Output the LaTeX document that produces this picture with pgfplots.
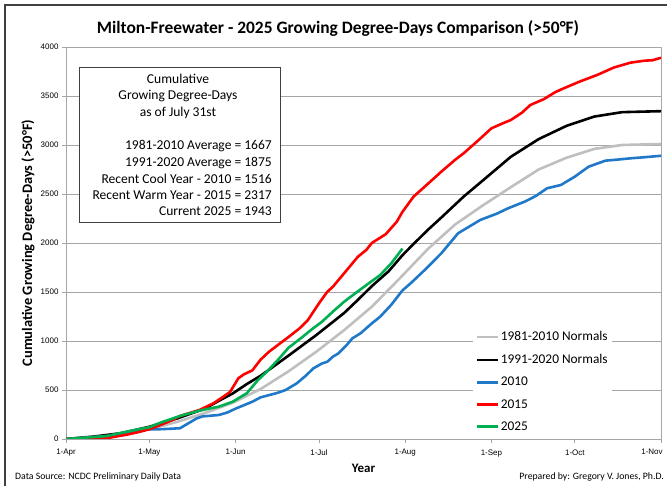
\documentclass[border=0pt]{standalone}
\usepackage{fontspec}
\setmainfont{Carlito}
\newfontfamily\arialf{Liberation Sans}
\usepackage{pgfplots}
\pgfplotsset{compat=1.18}
\definecolor{cgray}{HTML}{BFBFBF}
\definecolor{cblue}{HTML}{1F78C8}
\definecolor{cred}{HTML}{FF0000}
\definecolor{cgreen}{HTML}{00B050}
\definecolor{gridc}{HTML}{A6A6A6}
\definecolor{framec}{HTML}{404040}

\pgfplotstableread{
d v
0 0
10 15
20 45
30 100
40 175
50 265
60 370
70 510
80 690
90 890
100 1110
110 1350
121 1667
130 1935
140 2190
150 2385
160 2570
170 2750
180 2870
190 2960
200 3000
214 3010
}\gray

\pgfplotstableread{
d v
0 0
10 25
20 60
30 125
40 210
45 260
50 310
55 390
60 465
65 560
70 645
80 850
90 1060
100 1285
105 1420
110 1560
116 1710
121 1875
125 1990
130 2130
135 2260
143 2473
150 2640
160 2880
170 3060
180 3195
190 3290
200 3335
214 3345
}\black

\pgfplotstableread{
d v
0 0
10 20
15 31
20 55
26 90
30 98
34 100
38 105
41 110
44 160
47 210
49 230
55 245
58 270
61 310
67 380
70 425
72 440
76 470
79 500
83 568
86 640
89 721
92 770
94 789
96 840
98 874
101 960
103 1027
106 1080
110 1180
113 1248
117 1370
121 1516
124 1590
129 1724
135 1895
141 2099
149 2235
155 2300
159 2354
165 2422
169 2480
173 2558
178 2592
183 2677
188 2779
194 2840
198 2850
203 2864
208 2875
214 2890
}\blue

\pgfplotstableread{
d v
0 0
8 0
14 5
18 25
22 45
26 70
30 100
34 143
38 190
41 235
45 270
48 296
53 364
56 420
59 480
62 620
64 660
67 700
70 810
73 890
77 976
80 1040
84 1129
87 1214
91 1385
94 1503
96 1554
101 1724
105 1860
108 1929
110 2000
115 2090
119 2218
121 2317
125 2473
130 2600
135 2728
140 2850
143 2915
148 3040
153 3170
157 3220
160 3255
164 3330
167 3408
172 3470
176 3540
179 3578
185 3650
191 3714
197 3790
203 3840
208 3860
211 3865
214 3890
}\red

\pgfplotstableread{
d v
0 0
10 20
15 31
19 58
26 99
30 120
34 167
41 235
48 289
52 313
55 330
60 381
65 466
69 600
72 680
76 800
80 930
85 1040
88 1110
92 1195
96 1300
100 1400
104 1486
108 1570
113 1673
117 1793
121 1943
}\green

\begin{document}
\begin{tikzpicture}[x=1bp,y=1bp]
\path[use as bounding box] (0,0) rectangle (667,486);
\draw[framec, line width=2bp] (4.5,-5) -- (4.5,481) -- (672,481);
\begin{axis}[at={(66bp,47bp)}, anchor=south west, width=595bp, height=392bp, scale only axis,
 xmin=0, xmax=214, ymin=0, ymax=4000,
 xtick={0,30,61,91,122,153,183,214},
 xticklabels={1-Apr,1-May,1-Jun,1-Jul,1-Aug,1-Sep,1-Oct,{\hspace*{-18bp}1-Nov}},
 ytick={0,500,...,4000},
 ymajorgrids, grid style={gridc, line width=0.9bp},
 axis line style={gridc, line width=0.9bp},
 tick align=outside, xtick pos=left, ytick pos=left, major tick length=4bp,
 tick style={gridc, line width=0.8bp},
 ticklabel style={font=\arialf\fontsize{8}{9}\selectfont},
 xticklabel style={yshift=-3bp},
 /pgf/number format/assume math mode=true,
 scaled ticks=false, yticklabel style={/pgf/number format/1000 sep={}},
 xlabel={Year}, ylabel={Cumulative Growing Degree-Days (>50°F)},
 xlabel style={font=\bfseries\fontsize{13}{15}\selectfont, at={(axis description cs:0.5,-0.074)}, anchor=center},
 ylabel style={font=\bfseries\fontsize{14.5}{16}\selectfont, at={(axis description cs:-0.064,0.5)}, anchor=center},
 legend style={at={(rel axis cs:0.684,0.008)}, anchor=south west, draw=none, fill=white,
   font=\fontsize{13.4}{15}\selectfont, row sep=10bp, inner sep=3bp,
   nodes={inner sep=1bp}},
 legend cell align=left,
 legend image code/.code={\draw[#1, line width=2.6bp] (0bp,0bp) -- (21bp,0bp);},
 every axis plot/.append style={line width=2.6bp},
]
\addplot[cgray] table[x=d,y=v] {\gray};
\addlegendentry{1981-2010 Normals}
\addplot[black] table[x=d,y=v] {\black};
\addlegendentry{1991-2020 Normals}
\addplot[cblue] table[x=d,y=v] {\blue};
\addlegendentry{2010}
\addplot[cred] table[x=d,y=v] {\red};
\addlegendentry{2015}
\addplot[cgreen] table[x=d,y=v] {\green};
\addlegendentry{2025}
\end{axis}
\draw[framec, line width=0.8bp, fill=white] (79.5,264) rectangle (280,419);
\begin{scope}[every node/.style={inner sep=0pt, font=\fontsize{13.6}{15}\selectfont}]
\node[anchor=mid] at (178,405.3) {Cumulative};
\node[anchor=mid] at (178,389) {Growing Degree-Days};
\node[anchor=mid] at (178,372) {as of July 31st};
\node[anchor=mid east] at (272,339) {1981-2010 Average = 1667};
\node[anchor=mid east] at (272,322) {1991-2020 Average = 1875};
\node[anchor=mid east] at (272,305.3) {Recent Cool Year - 2010 = 1516};
\node[anchor=mid east] at (272,289) {Recent Warm Year - 2015 = 2317};
\node[anchor=mid east] at (272,273) {Current 2025 = 1943};
\end{scope}
\node[font=\bfseries\fontsize{17.5}{20}\selectfont, anchor=mid] at (338,455) {Milton-Freewater - 2025 Growing Degree-Days Comparison (>50°F)};
\node[font=\fontsize{9.8}{11}\selectfont, anchor=mid west, inner sep=0pt] at (15,9) {Data Source: NCDC Preliminary Daily Data};
\node[font=\fontsize{9.8}{11}\selectfont, anchor=mid east, inner sep=0pt] at (664,9) {Prepared by: Gregory V. Jones, Ph.D.};
\end{tikzpicture}
\end{document}
